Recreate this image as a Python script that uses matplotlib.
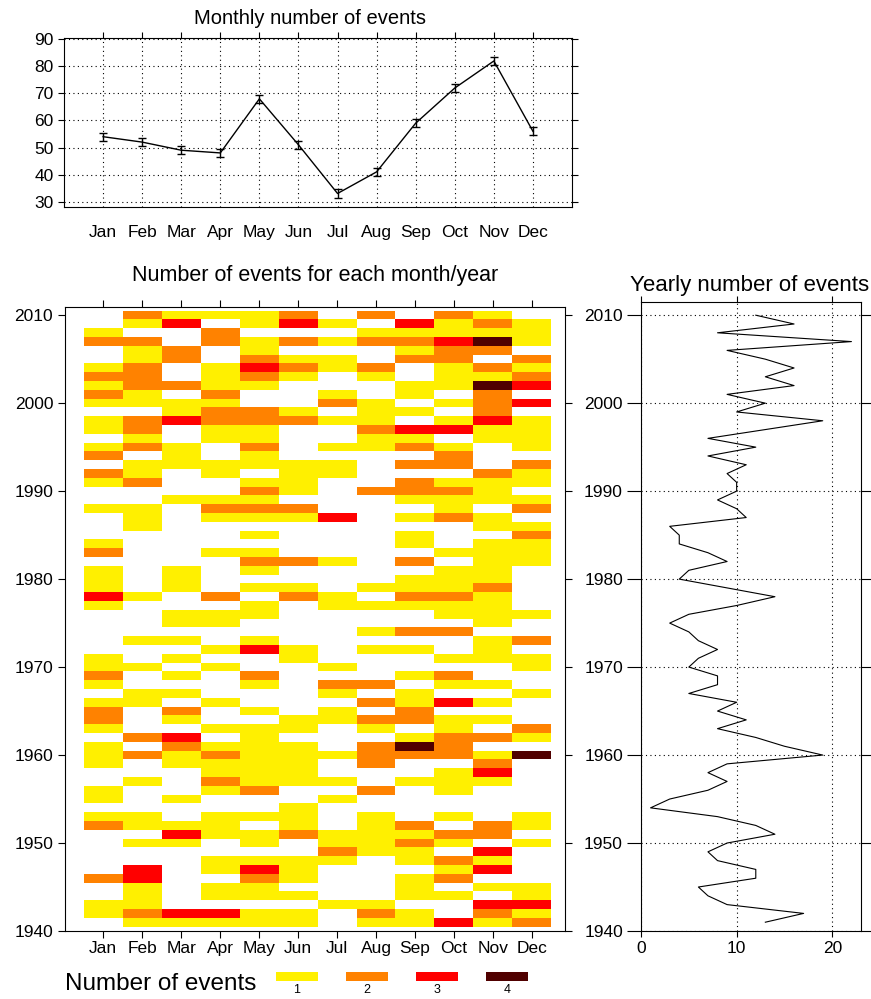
import numpy as np
import matplotlib
matplotlib.use("Agg")
import matplotlib.pyplot as plt
from matplotlib.colors import ListedColormap, BoundaryNorm

plt.rcParams['font.family'] = ['Liberation Sans', 'DejaVu Sans']

months = ['Jan', 'Feb', 'Mar', 'Apr', 'May', 'Jun', 'Jul', 'Aug', 'Sep', 'Oct', 'Nov', 'Dec']
monthly_total = [54, 52, 49, 48, 68, 51, 33, 41, 59, 72, 82, 56]
monthly_err = [1.5] * 12

# events per month, one row per year, 2010 first
counts = [
    [0, 2, 1, 1, 1, 2, 0, 2, 0, 2, 1, 0],  # 2010
    [0, 1, 3, 0, 1, 3, 1, 0, 3, 1, 2, 1],
    [1, 0, 0, 2, 0, 0, 0, 1, 1, 1, 1, 1],
    [2, 2, 0, 2, 1, 2, 1, 2, 2, 3, 4, 1],
    [0, 1, 2, 0, 1, 0, 0, 0, 1, 2, 2, 0],
    [0, 1, 2, 0, 2, 1, 1, 0, 2, 2, 0, 2],
    [1, 2, 0, 1, 3, 2, 1, 2, 0, 1, 2, 1],
    [2, 2, 0, 1, 2, 1, 0, 1, 0, 1, 1, 2],
    [1, 2, 2, 1, 1, 0, 0, 0, 1, 1, 4, 3],
    [2, 1, 0, 2, 0, 0, 1, 0, 1, 0, 2, 0],
    [1, 1, 1, 1, 0, 0, 2, 1, 0, 1, 2, 3],  # 2000
    [0, 0, 1, 2, 2, 1, 0, 1, 1, 0, 2, 0],
    [1, 2, 3, 2, 2, 2, 1, 1, 0, 1, 3, 1],
    [1, 2, 0, 1, 1, 0, 0, 2, 3, 3, 1, 1],
    [0, 1, 0, 1, 1, 0, 0, 1, 1, 0, 1, 1],
    [1, 2, 1, 0, 2, 0, 1, 1, 2, 1, 0, 1],
    [2, 0, 1, 0, 1, 0, 0, 0, 0, 2, 0, 0],
    [0, 1, 1, 1, 1, 1, 1, 0, 2, 2, 0, 2],
    [2, 1, 0, 1, 0, 1, 1, 0, 0, 0, 2, 1],
    [1, 2, 0, 0, 1, 1, 0, 0, 2, 1, 1, 1],
    [0, 0, 0, 0, 2, 1, 0, 2, 2, 2, 1, 0],  # 1990
    [0, 0, 1, 1, 1, 0, 0, 0, 1, 1, 1, 1],
    [1, 1, 0, 2, 2, 2, 0, 0, 0, 1, 0, 2],
    [0, 1, 0, 1, 1, 1, 3, 0, 1, 2, 1, 0],
    [0, 1, 0, 0, 0, 0, 0, 0, 0, 0, 1, 1],
    [0, 0, 0, 0, 1, 0, 0, 0, 1, 0, 0, 2],
    [1, 0, 0, 0, 0, 0, 0, 0, 1, 0, 1, 1],
    [2, 0, 0, 1, 1, 0, 0, 0, 0, 1, 1, 1],
    [0, 0, 0, 0, 2, 2, 1, 0, 2, 0, 1, 1],
    [1, 0, 1, 0, 1, 0, 0, 0, 0, 1, 1, 0],
    [1, 0, 1, 0, 0, 0, 0, 0, 1, 1, 1, 0],  # 1980
    [1, 0, 1, 0, 1, 1, 0, 1, 1, 1, 2, 0],
    [3, 1, 0, 2, 0, 2, 1, 0, 2, 2, 1, 0],
    [1, 0, 0, 0, 1, 0, 1, 1, 1, 1, 1, 0],
    [0, 0, 1, 1, 1, 0, 0, 0, 0, 1, 1, 1],
    [0, 0, 1, 1, 0, 0, 0, 0, 0, 0, 1, 0],
    [0, 0, 0, 0, 0, 0, 0, 1, 2, 2, 0, 0],
    [0, 1, 1, 0, 1, 0, 0, 0, 0, 0, 1, 2],
    [0, 0, 0, 1, 3, 1, 0, 1, 1, 0, 1, 0],
    [1, 0, 1, 0, 0, 1, 0, 0, 0, 1, 1, 1],
    [1, 1, 0, 1, 0, 0, 1, 0, 0, 0, 0, 1],  # 1970
    [2, 0, 1, 0, 2, 0, 0, 0, 1, 2, 0, 0],
    [1, 0, 0, 0, 1, 0, 2, 2, 0, 1, 1, 0],
    [0, 1, 1, 0, 0, 0, 1, 0, 1, 0, 0, 1],
    [1, 1, 0, 1, 0, 0, 0, 2, 1, 3, 1, 0],
    [2, 0, 2, 0, 1, 0, 1, 0, 2, 0, 0, 0],
    [2, 0, 1, 0, 0, 1, 1, 2, 2, 1, 1, 0],
    [1, 0, 0, 1, 1, 1, 0, 1, 0, 1, 0, 2],
    [0, 2, 3, 0, 1, 0, 0, 0, 1, 2, 2, 1],
    [1, 0, 2, 1, 1, 1, 0, 2, 4, 2, 0, 0],
    [1, 2, 1, 2, 1, 1, 1, 2, 2, 2, 1, 4],  # 1960
    [1, 0, 1, 1, 1, 1, 0, 2, 0, 0, 2, 0],
    [0, 0, 0, 1, 1, 1, 0, 0, 0, 1, 3, 0],
    [0, 1, 0, 2, 1, 1, 1, 0, 1, 1, 1, 0],
    [1, 0, 0, 1, 2, 0, 0, 2, 0, 1, 0, 0],
    [1, 0, 1, 0, 0, 0, 1, 0, 0, 0, 0, 0],
    [0, 0, 0, 0, 0, 1, 0, 0, 0, 0, 0, 0],
    [1, 1, 0, 1, 1, 1, 0, 1, 0, 1, 0, 1],
    [2, 1, 1, 1, 0, 1, 0, 1, 2, 0, 2, 1],
    [0, 0, 3, 1, 1, 2, 1, 1, 1, 2, 2, 0],
    [0, 1, 1, 0, 1, 0, 1, 1, 2, 1, 0, 1],  # 1950
    [0, 0, 0, 0, 0, 0, 2, 1, 1, 0, 3, 0],
    [0, 0, 0, 1, 1, 1, 1, 0, 1, 2, 1, 0],
    [0, 3, 0, 1, 3, 1, 0, 0, 0, 1, 3, 0],
    [2, 3, 0, 0, 2, 1, 0, 0, 1, 2, 0, 0],
    [0, 1, 0, 1, 1, 0, 0, 0, 1, 0, 1, 1],
    [0, 1, 0, 1, 1, 1, 0, 0, 1, 1, 0, 1],
    [1, 1, 0, 0, 0, 0, 1, 1, 0, 0, 3, 3],
    [1, 2, 3, 3, 1, 1, 0, 2, 1, 0, 2, 1],
    [0, 1, 1, 1, 1, 1, 0, 1, 1, 3, 1, 2],  # 1941
]
years = list(range(2010, 1940, -1))

yearly_years = list(range(1941, 2011))
yearly_total = [13, 17, 9, 7, 6, 12, 12, 8, 7, 9,
                14, 12, 8, 1, 3, 7, 9, 7, 9, 19,
                15, 12, 8, 11, 8, 10, 5, 8, 8, 5,
                6, 8, 6, 5, 3, 5, 10, 14, 9, 4,
                5, 9, 7, 4, 4, 3, 11, 10, 8, 10,
                10, 9, 11, 7, 12, 7, 13, 19, 10, 13,
                9, 16, 13, 16, 13, 9, 22, 8, 16, 12]

legend_levels = [1, 2, 3, 4]

W, H = 871, 999
fig = plt.figure(figsize=(W / 100, H / 100), dpi=100)


def box(l, r, t, b):
    return [l / W, 1 - b / H, (r - l) / W, (b - t) / H]


dots = (0, (1, 3))
cmap = ListedColormap(['white', '#FFF000', '#FF8200', '#FF0000', '#500000'])
norm = BoundaryNorm([-0.5, 0.5, 1.5, 2.5, 3.5, 4.5], cmap.N)
xm = np.arange(1, 13)
fs = 12.5

# top: monthly totals
ax1 = fig.add_axes(box(64, 572, 38, 207))
ax1.errorbar(xm, monthly_total, yerr=monthly_err, color='black', lw=1,
             capsize=3, elinewidth=1, capthick=1)
ax1.set_xlim(0, 13)
ax1.set_ylim(28, 90.5)
ax1.set_yticks(range(30, 91, 10))
ax1.set_xticks(xm)
ax1.set_xticklabels(months)
ax1.grid(True, color='black', linestyle=dots, lw=0.8)
ax1.tick_params(axis='x', bottom=False, top=True, direction='out', length=4, pad=9, labelsize=fs)
ax1.tick_params(axis='y', left=True, right=True, direction='out', length=4, labelsize=fs)
fig.text(310 / W, 1 - 18 / H, 'Monthly number of events', ha='center', va='center', fontsize=14.5)

# heatmap
ax2 = fig.add_axes(box(65, 565, 307, 931))
xe = np.arange(0.5, 13.5)
ye = np.arange(1940.5, 2011.5)
grid = np.array(counts[::-1])
ax2.pcolormesh(xe, ye, grid, cmap=cmap, norm=norm)
ax2.set_xlim(0.02, 12.85)
ax2.set_ylim(1940, 2010.9)
ax2.set_xticks(xm)
ax2.set_xticklabels(months)
ax2.set_yticks(range(1940, 2011, 10))
ax2.tick_params(axis='both', direction='out', length=5, labelsize=fs,
                top=True, right=True)
ax2.tick_params(axis='x', pad=2)
fig.text(315 / W, 1 - 275 / H, 'Number of events for each month/year',
         ha='center', va='center', fontsize=15.5)

# right: yearly totals
ax3 = fig.add_axes(box(641, 861, 302, 931))
ax3.plot(yearly_total, yearly_years, color='black', lw=0.8)
ax3.set_xlim(0, 23)
ax3.set_ylim(1940, 2011.5)
ax3.set_xticks([0, 10, 20])
ax3.set_yticks(range(1940, 2011, 10))
ax3.grid(True, color='black', linestyle=dots, lw=0.8)
ax3.tick_params(axis='x', direction='out', length=4, top=True, labelsize=fs)
ax3.tick_params(axis='y', direction='out', length=10, right=True, pad=3, labelsize=fs)
fig.text(750 / W, 1 - 285 / H, 'Yearly number of events', ha='center', va='center', fontsize=16)

# legend
fig.text(65 / W, 1 - 984 / H, 'Number of events', ha='left', va='center', fontsize=17.5)
axl = fig.add_axes(box(262, 542, 972, 981))
axl.bar(legend_levels, [1] * 4, width=0.6, color=[cmap(norm(v)) for v in legend_levels])
axl.set_xlim(0.5, 4.5)
axl.set_ylim(0, 1)
axl.set_xticks(legend_levels)
axl.tick_params(axis='x', length=0, pad=2, labelsize=9)
axl.set_yticks([])
for s in axl.spines.values():
    s.set_visible(False)

fig.savefig('out.png', dpi=100)
